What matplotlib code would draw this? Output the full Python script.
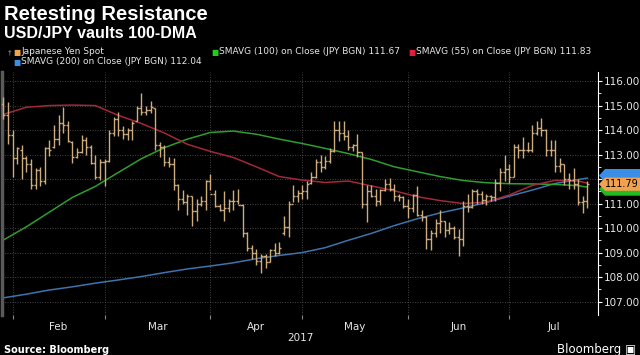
import numpy as np
import matplotlib.pyplot as plt
from matplotlib.patches import Polygon
from matplotlib.transforms import blended_transform_factory

# daily USD/JPY bars (Jan 30 - Jul 26 2017, weekdays)
opens = [115.05, 114.6, 113.8, 112.85, 113.2, 112.85, 112.6, 111.75, 112.35, 111.9,
         113.25, 113.3, 113.65, 114.3, 114.2, 113.5, 112.9, 113.1, 113.6, 113.3,
         112.65, 112.1, 112.7, 112.75, 113.9, 114.45, 114.0, 113.85, 114.0, 114.35,
         114.9, 114.75, 114.8, 114.9, 113.4, 113.3, 112.7, 112.6, 111.75, 111.2,
         111.05, 111.3, 110.7, 111.0, 111.1, 111.9, 111.4, 110.9, 110.75, 110.8,
         111.1, 111.1, 110.95, 109.8, 109.2, 109.0, 108.65, 108.85, 108.6, 109.1,
         109.0, 109.8, 110.05, 111.0, 111.3, 111.45, 111.5, 111.85, 112.1, 112.7,
         112.5, 112.75, 113.15, 114.0, 113.9, 113.75, 113.3, 113.4, 113.1, 111.0,
         111.5, 111.3, 111.1, 111.55, 111.8, 111.6, 111.3, 111.25, 110.9, 110.8,
         111.35, 110.55, 110.45, 109.55, 109.8, 110.2, 110.3, 109.9, 110.0, 109.65,
         109.55, 110.9, 110.85, 111.5, 111.4, 111.15, 111.3, 111.25, 111.85, 112.3,
         112.4, 112.1, 113.3, 113.2, 113.2, 113.2, 113.9, 114.1, 114.0, 113.2,
         113.2, 112.55, 112.6, 112.0, 111.95, 111.8, 111.05, 111.1]
highs = [115.35, 115.15, 114.0, 113.3, 113.4, 112.95, 112.8, 112.45, 112.5, 113.3,
         113.6, 114.2, 114.6, 114.95, 114.35, 113.55, 113.25, 113.8, 113.7, 113.4,
         113.0, 112.8, 112.8, 114.0, 114.55, 114.75, 114.15, 114.1, 114.35, 115.0,
         115.5, 115.0, 115.2, 114.9, 113.5, 113.4, 112.9, 112.85, 111.8, 111.55,
         111.4, 111.3, 111.2, 111.3, 111.95, 112.2, 111.55, 111.0, 111.5, 111.2,
         111.55, 111.6, 111.0, 109.85, 109.3, 109.15, 108.95, 108.95, 109.15, 109.4,
         109.45, 110.5, 111.1, 111.75, 111.55, 111.75, 111.9, 112.3, 112.8, 113.0,
         112.95, 113.25, 114.35, 114.35, 114.35, 114.0, 113.45, 113.85, 113.1, 111.75,
         111.75, 111.6, 111.6, 112.0, 112.05, 111.8, 111.4, 111.3, 111.2, 111.4,
         111.7, 110.75, 110.5, 109.9, 110.35, 110.75, 110.3, 110.25, 110.1, 109.95,
         111.1, 111.4, 111.6, 111.6, 111.5, 111.4, 111.35, 112.0, 112.45, 113.0,
         112.6, 113.45, 113.45, 113.7, 113.5, 114.2, 114.35, 114.5, 114.05, 113.6,
         113.6, 112.85, 112.6, 112.25, 112.45, 112.0, 111.3, 111.9]
lows = [114.45, 113.45, 112.1, 112.6, 112.0, 112.3, 111.6, 111.6, 111.7, 111.8,
        112.95, 113.25, 113.4, 113.9, 113.5, 112.65, 112.85, 113.05, 113.0, 112.6,
        112.0, 111.95, 111.7, 112.7, 113.75, 113.75, 113.65, 113.6, 113.6, 114.35,
        114.6, 114.6, 114.7, 113.2, 112.9, 112.55, 112.5, 111.55, 110.75, 111.0,
        110.55, 110.1, 110.3, 110.9, 110.75, 111.55, 110.85, 110.7, 110.3, 110.65,
        110.75, 111.0, 109.65, 109.05, 108.75, 108.5, 108.15, 108.35, 108.6, 108.85,
        108.95, 109.7, 109.65, 111.05, 111.05, 111.2, 111.2, 111.8, 112.05, 112.3,
        112.4, 112.65, 113.1, 113.55, 113.6, 113.2, 113.15, 112.9, 110.8, 110.25,
        111.25, 110.9, 110.95, 111.5, 111.5, 111.1, 111.1, 110.8, 110.4, 110.65,
        110.5, 110.3, 109.15, 109.1, 109.65, 109.8, 109.65, 109.75, 109.55, 108.85,
        109.25, 110.65, 110.8, 111.0, 111.0, 110.95, 111.1, 111.1, 111.5, 111.9,
        111.85, 112.1, 112.85, 112.85, 113.1, 113.1, 113.8, 113.75, 112.95, 112.95,
        112.3, 112.3, 111.75, 111.6, 111.6, 110.95, 110.6, 110.8]
closes = [114.6, 113.8, 112.85, 113.25, 112.85, 112.6, 111.75, 112.35, 111.9, 113.25,
          113.2, 113.65, 114.3, 114.2, 113.55, 112.9, 113.1, 113.6, 113.3, 112.65,
          112.1, 112.7, 112.75, 113.9, 114.45, 114.0, 113.85, 114.0, 114.3, 114.9,
          114.75, 114.8, 114.95, 113.4, 113.3, 112.7, 112.6, 111.75, 111.2, 111.05,
          111.3, 110.7, 111.0, 111.1, 111.9, 111.4, 110.9, 110.75, 110.8, 111.1,
          111.1, 110.95, 109.8, 109.2, 109.0, 108.65, 108.85, 108.6, 109.1, 109.0,
          109.2, 110.05, 111.0, 111.3, 111.45, 111.5, 111.8, 112.1, 112.7, 112.5,
          112.75, 113.15, 114.0, 113.9, 113.75, 113.3, 113.4, 113.1, 111.0, 111.5,
          111.3, 111.1, 111.55, 111.8, 111.6, 111.3, 111.25, 110.9, 110.8, 111.35,
          110.55, 110.45, 109.55, 109.8, 110.2, 110.3, 109.9, 110.0, 109.65, 109.55,
          110.9, 110.85, 111.5, 111.4, 111.15, 111.3, 111.25, 111.85, 112.3, 112.4,
          112.1, 113.3, 113.2, 113.2, 113.2, 113.9, 114.1, 114.0, 113.2, 113.2,
          112.55, 112.6, 112.0, 111.95, 111.8, 111.05, 111.1, 111.79]

# moving averages, sampled along the bar index
ma_idx = [0, 5, 10, 15, 20, 25, 30, 35, 40, 45, 50, 55, 60, 65, 70, 75, 80,
          85, 90, 95, 100, 105, 110, 115, 120, 125, 127]
sma55 = [114.64, 114.93, 115.0, 115.02, 115.0, 114.6, 114.27, 113.88, 113.42,
         113.13, 112.88, 112.5, 112.1, 111.96, 111.86, 111.92, 111.72, 111.52,
         111.28, 111.12, 111.0, 111.06, 111.35, 111.74, 111.95, 111.92, 111.83]
sma100 = [109.51, 110.05, 110.65, 111.25, 111.7, 112.27, 112.83, 113.28, 113.63,
          113.9, 113.96, 113.83, 113.63, 113.45, 113.25, 113.04, 112.8, 112.5,
          112.3, 112.1, 111.94, 111.85, 111.81, 111.8, 111.78, 111.73, 111.67]
sma200 = [107.15, 107.3, 107.47, 107.6, 107.75, 107.88, 108.02, 108.18, 108.33,
          108.45, 108.58, 108.75, 108.88, 109.0, 109.2, 109.5, 109.78, 110.1,
          110.38, 110.62, 110.82, 111.04, 111.3, 111.55, 111.82, 111.98, 112.04]

month_starts = [2, 22, 45, 65, 88, 110]
month_names = ["Feb", "Mar", "Apr", "May", "Jun", "Jul"]
yticks = [107, 108, 109, 110, 111, 112, 113, 114, 115, 116]

bar_color = "#cdac7e"
red = "#a3283a"
green = "#2e9e2e"
blue = "#3d74ad"
txt = "#e6e6e6"

fig = plt.figure(figsize=(6.4, 3.55), dpi=100, facecolor="black")
ax = fig.add_axes([2 / 640, 1 - 315 / 355, 596 / 640, 243 / 355])
ax.set_facecolor("black")

x = np.arange(len(closes))
ax.plot(ma_idx, sma200, color=blue, lw=1.1, zorder=2)
ax.plot(ma_idx, sma100, color=green, lw=1.1, zorder=2)
ax.plot(ma_idx, sma55, color=red, lw=1.1, zorder=2)
ax.vlines(x, lows, highs, color=bar_color, lw=1, zorder=3)
ax.hlines(opens, x - 0.45, x, color=bar_color, lw=1, zorder=3)
ax.hlines(closes, x, x + 0.45, color=bar_color, lw=1, zorder=3)

ax.set_xlim(-0.3, 129.3)
ax.set_ylim(106.45, 116.37)

ax.yaxis.tick_right()
ax.set_yticks(yticks)
# the 112.00 label sits under the last-value tags, as in the original
ax.set_yticklabels(["" if v == 112 else f"{v:.2f}" for v in yticks])
ax.set_yticks(np.array(yticks[:-1]) + 0.5, minor=True)
ax.tick_params(axis="y", which="major", colors="white", labelcolor=txt,
               labelsize=7.5, length=3, pad=1)
ax.tick_params(axis="y", which="minor", colors="white", length=2)

ax.set_xticks(month_starts)
ax.set_xticklabels([])
centers = [(a + b) / 2 for a, b in zip(month_starts, month_starts[1:] + [129.3])]
ax.set_xticks(centers, minor=True)
ax.set_xticklabels(month_names, minor=True)
ax.tick_params(axis="x", which="major", colors="#888888", length=3)
ax.tick_params(axis="x", which="minor", length=0, labelcolor=txt,
               labelsize=7.5, pad=5)

ax.grid(True, which="major", color="#5a5a5a", ls=(0, (1, 2)), lw=0.6)
for s in ["top", "bottom"]:
    ax.spines[s].set_visible(False)
ax.spines["right"].set_color("white")
ax.spines["left"].set_color("#5a5a5a")
ax.spines["left"].set_linewidth(2.5)

# last value tags on the right axis (blue and green mostly hidden behind orange)
tr = blended_transform_factory(fig.transFigure, ax.transData)


def tag(y, color, z):
    h = 0.27
    pts = [(599 / 640, y), (605 / 640, y + h), (1.0, y + h),
           (1.0, y - h), (605 / 640, y - h)]
    fig.patches.append(Polygon(pts, closed=True, fc=color, ec="none",
                               transform=tr, zorder=z))


tag(sma200[-1] + 0.1, "#3a8ee6", 4)
tag(sma100[-1] - 0.08, "#22bb22", 4)
tag(closes[-1], "#f2a14e", 5)
fig.text(605 / 640, closes[-1], f"{closes[-1]:.2f}", transform=tr,
         color="black", fontsize=7, va="center", ha="left", zorder=6)

fig.text(4 / 640, 1 - 14 / 355, "Retesting Resistance", color="white",
         fontsize=14.5, fontweight="bold", family="Liberation Sans", va="center")
fig.text(4 / 640, 1 - 33 / 355, "USD/JPY vaults 100-DMA", color="white",
         fontsize=11.5, fontweight="bold", family="Liberation Sans", va="center")

legend = [(13, 52, "#f5a04a", "Japanese Yen Spot"),
          (211, 52, "#22cc22", "SMAVG (100) on Close (JPY BGN) 111.67"),
          (408, 52, "#e0203a", "SMAVG (55) on Close (JPY BGN) 111.83"),
          (13, 62, "#3a8ee6", "SMAVG (200) on Close (JPY BGN) 112.04")]
for lx, ly, c, label in legend:
    fig.text(lx / 640, 1 - ly / 355, "\u25a0", color=c, fontsize=5.5, va="center")
    fig.text((lx + 8) / 640, 1 - ly / 355, label, color=txt, fontsize=6.5,
             va="center")
fig.text(8 / 640, 1 - 52 / 355, "\u2020", color="#999999", fontsize=5, va="center")

fig.text(300 / 640, 1 - 338 / 355, "2017", color=txt, fontsize=7.5,
         ha="center", va="center")
fig.text(4 / 640, 1 - 350 / 355, "Source: Bloomberg", color="white",
         fontsize=7, fontweight="bold", va="center")
fig.text(636 / 640, 1 - 349 / 355, "Bloomberg \u25a3", color="white",
         fontsize=8.5, ha="right", va="center")

fig.savefig("out.png", dpi=100, facecolor="black")
